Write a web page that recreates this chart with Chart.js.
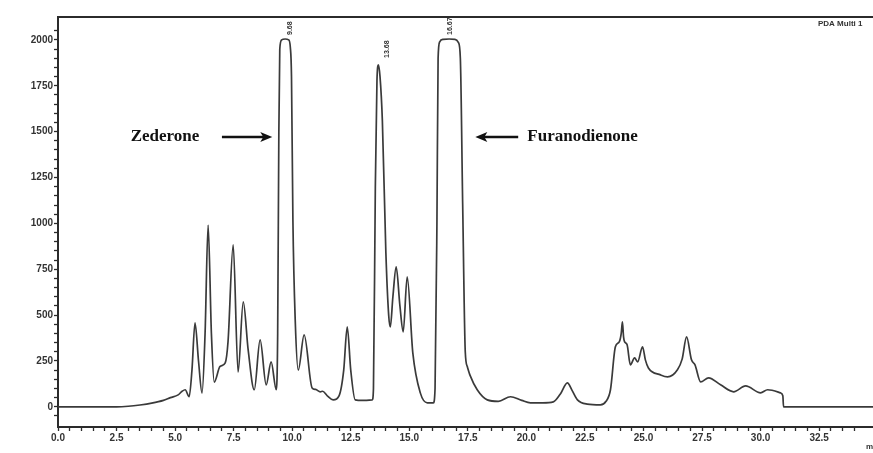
<!DOCTYPE html>
<html>
<head>
<meta charset="utf-8">
<script src="https://cdn.jsdelivr.net/npm/chart.js@4.4.0/dist/chart.umd.min.js"></script>
<style>
  html, body { margin: 0; padding: 0; background: #fff; }
  #wrap { width: 873px; height: 453px; }
</style>
</head>
<body>
<div id="wrap"><canvas id="myChart" width="873" height="453"></canvas></div>
<script>
// retention time (min) and detector signal (mAU)
const times = [0, 2.5, 3.0, 3.5, 4.0, 4.5, 4.8, 5.13, 5.3, 5.43, 5.6, 5.72, 5.85, 6.0, 6.15, 6.28, 6.41, 6.55, 6.67,
  6.92, 7.14, 7.26, 7.48, 7.69, 7.91, 8.12, 8.38, 8.63, 8.89, 9.1, 9.32, 9.38, 9.43, 9.47, 9.55, 9.7, 9.85, 9.92,
  9.97, 10.03, 10.13, 10.26, 10.51, 10.85, 11.0, 11.2, 11.3, 11.5, 11.75, 12.0, 12.2, 12.35, 12.5, 12.69, 13.0,
  13.42, 13.47, 13.55, 13.62, 13.68, 13.75, 13.85, 14.0, 14.12, 14.19, 14.3, 14.44, 14.6, 14.74, 14.91, 15.15,
  15.47, 15.77, 16.03, 16.1, 16.18, 16.23, 16.3, 16.45, 16.7, 16.95, 17.1, 17.18, 17.28, 17.39, 17.48, 17.6, 17.9,
  18.33, 18.8, 19.32, 19.8, 20.17, 20.7, 21.15, 21.45, 21.75, 21.95, 22.18, 22.6, 23.16, 23.4, 23.59, 23.8, 23.97,
  24.05, 24.1, 24.15, 24.19, 24.3, 24.44, 24.62, 24.75, 24.96, 25.08, 25.21, 25.73, 26.03, 26.45, 26.65, 26.84,
  27.05, 27.2, 27.44, 27.78, 28.29, 28.85, 29.36, 30.0, 30.3, 30.85, 30.95, 30.98, 34.8];
const signal = [0, 0, 3, 10, 20, 35, 50, 65, 85, 93, 55, 200, 458, 250, 75, 400, 990, 400, 135,
  220, 240, 355, 883, 190, 572, 310, 93, 365, 120, 245, 93, 400, 1500, 1950, 2000, 2005, 2000, 1960,
  1800, 1020, 470, 200, 392, 103, 95, 82, 85, 60, 38, 60, 200, 436, 200, 38, 35,
  38, 100, 1200, 1780, 1864, 1800, 1560, 840, 500, 436, 600, 763, 550, 409, 708, 294,
  76, 22, 22, 100, 1000, 1900, 1990, 2003, 2005, 2003, 1985, 1900, 1100, 300, 218, 170, 93,
  38, 30, 55, 35, 22, 22, 27, 70, 131, 90, 38, 15, 11, 30, 93, 327, 355,
  400, 463, 380, 355, 338, 229, 267, 245, 327, 256, 212, 174, 163, 202, 260, 381,
  256, 229, 136, 158, 120, 82, 114, 76, 93, 76, 60, 0, 0];

// retention time labels above the main peaks
const peakTimes = [9.9, 14.05, 16.75];
const peakText = ['9.68', '13.68', '16.67'];
const peakLevel = [2027, 1902, 2027];

// compound annotations: label, arrow tail, arrow tip (min), level (mAU)
const compounds = [
  { name: 'Zederone', textAt: 4.57, align: 'center', tail: 7.0, tip: 9.15, level: 1471 },
  { name: 'Furanodienone', textAt: 20.04, align: 'left', tail: 19.65, tip: 17.82, level: 1471 }
];

const ink = '#2b2b2b';

const decorations = {
  id: 'decorations',
  afterDraw(chart) {
    const { ctx, chartArea, scales } = chart;
    const x = scales.x, y = scales.y;
    ctx.save();
    // top frame line
    ctx.strokeStyle = ink;
    ctx.lineWidth = 2;
    ctx.beginPath();
    ctx.moveTo(chartArea.left - 1, chartArea.top);
    ctx.lineTo(chartArea.right, chartArea.top);
    ctx.stroke();

    // detector label
    ctx.fillStyle = '#333';
    ctx.font = 'bold 8px "Liberation Sans"';
    ctx.textAlign = 'left';
    ctx.textBaseline = 'top';
    ctx.fillText('PDA Multi 1', chartArea.right - 55, chartArea.top + 3);

    // axis unit at far right
    ctx.font = 'bold 8px "Liberation Sans"';
    ctx.fillText('min', chartArea.right - 7, chartArea.bottom + 16);

    // retention time labels
    ctx.font = 'bold 7px "Liberation Sans"';
    peakTimes.forEach((t, i) => {
      ctx.save();
      ctx.translate(x.getPixelForValue(t), y.getPixelForValue(peakLevel[i]));
      ctx.rotate(-Math.PI / 2);
      ctx.textAlign = 'left';
      ctx.textBaseline = 'middle';
      ctx.fillText(peakText[i], 0, 0);
      ctx.restore();
    });

    // compound names with arrows
    compounds.forEach(c => {
      const py = y.getPixelForValue(c.level);
      ctx.fillStyle = '#111';
      ctx.font = 'bold 17px "Liberation Serif"';
      ctx.textAlign = c.align;
      ctx.textBaseline = 'middle';
      ctx.fillText(c.name, x.getPixelForValue(c.textAt), py);

      const x0 = x.getPixelForValue(c.tail), x1 = x.getPixelForValue(c.tip);
      const dir = Math.sign(x1 - x0);
      ctx.strokeStyle = '#111';
      ctx.lineWidth = 2.5;
      ctx.beginPath();
      ctx.moveTo(x0, py);
      ctx.lineTo(x1 - dir * 8, py);
      ctx.stroke();
      ctx.beginPath();
      ctx.moveTo(x1, py);
      ctx.lineTo(x1 - dir * 12, py - 5);
      ctx.lineTo(x1 - dir * 9, py);
      ctx.lineTo(x1 - dir * 12, py + 5);
      ctx.closePath();
      ctx.fill();
    });
    ctx.restore();
  }
};

const onStep = (v, step) => Math.abs(v / step - Math.round(v / step)) < 1e-6;

const ctx = document.getElementById('myChart').getContext('2d');
const myChart = new Chart(ctx, {
  type: 'line',
  data: {
    datasets: [{
      label: 'PDA Multi 1',
      data: times.map((t, i) => ({ x: t, y: signal[i] })),
      borderColor: '#3a3a3a',
      borderWidth: 1.7,
      pointRadius: 0,
      fill: false,
      cubicInterpolationMode: 'monotone'
    }]
  },
  options: {
    responsive: false,
    animation: false,
    layout: { padding: { top: 17, right: 0, left: 0, bottom: 0 } },
    plugins: { legend: { display: false }, tooltip: { enabled: false } },
    scales: {
      x: {
        type: 'linear',
        min: 0,
        max: 34.8,
        afterBuildTicks: a => { a.ticks = a.ticks.filter(t => onStep(t.value, 0.5)); },
        afterFit: s => { s.height = 26; },
        border: { display: true, color: ink, width: 2 },
        grid: { drawOnChartArea: false, drawTicks: true, tickLength: 4, color: ink, tickWidth: 1.3 },
        ticks: {
          stepSize: 0.5,
          autoSkip: false,
          maxRotation: 0,
          padding: 1,
          color: '#333',
          font: { family: 'Liberation Sans', size: 10, weight: 'bold' },
          callback: v => onStep(v, 2.5) ? v.toFixed(1) : ''
        }
      },
      y: {
        min: -110,
        max: 2125,
        afterBuildTicks: a => { a.ticks = a.ticks.filter(t => onStep(t.value, 50)); },
        afterFit: s => { s.width = 58; },
        border: { display: true, color: ink, width: 2 },
        grid: { drawOnChartArea: false, drawTicks: true, tickLength: 4, color: ink, tickWidth: 1.3 },
        ticks: {
          stepSize: 50,
          autoSkip: false,
          padding: 1,
          color: '#333',
          font: { family: 'Liberation Sans', size: 10, weight: 'bold' },
          callback: v => onStep(v, 250) ? String(v) : ''
        }
      }
    }
  },
  plugins: [decorations]
});
</script>
</body>
</html>
